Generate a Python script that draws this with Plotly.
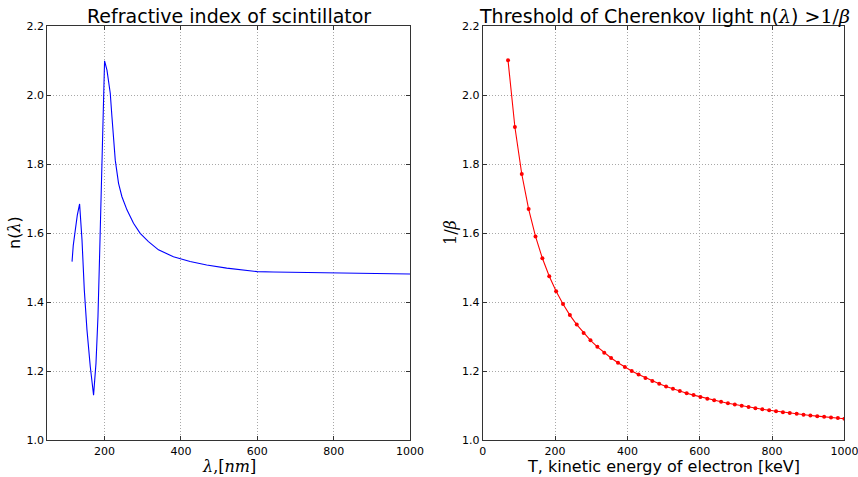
import plotly.graph_objects as go

# Refractive index of the scintillator vs wavelength (nm)
wavelength_nm = [114.8, 118.0, 123.4, 128.5, 134.6, 140.9, 146.9, 153.9, 162.6, 171.2,
                 177.5, 182.7, 186.9, 188.8, 190.6, 194.8, 197.4, 200.0, 206.3, 210.5,
                 214.9, 219.3, 223.5, 228.0, 236.6, 245.5, 258.6, 275.8, 293.3, 315.0,
                 341.2, 380.4, 424.0, 467.5, 520.0, 572.0, 600.0, 642.0, 712.0, 800.0,
                 900.0, 1000.0]
refr_index = [1.518, 1.565, 1.610, 1.652, 1.685, 1.581, 1.436, 1.320, 1.213, 1.131,
              1.223, 1.358, 1.532, 1.620, 1.725, 1.841, 2.035, 2.100, 2.073, 2.044,
              2.006, 1.938, 1.870, 1.812, 1.745, 1.706, 1.668, 1.629, 1.600, 1.576,
              1.552, 1.532, 1.518, 1.508, 1.499, 1.492, 1.489, 1.488, 1.487, 1.485,
              1.484, 1.482]

# Cherenkov threshold 1/beta vs electron kinetic energy (keV)
kin_energy_kev = [70, 89, 108, 127, 146, 165, 184, 203, 222, 241,
                  260, 279, 298, 317, 336, 355, 374, 393, 412, 431,
                  450, 469, 488, 507, 526, 545, 564, 583, 602, 621,
                  640, 659, 678, 697, 716, 735, 754, 773, 792, 811,
                  830, 849, 868, 887, 906, 925, 944, 963, 982, 1000]
inv_beta = [2.1014, 1.9081, 1.7719, 1.6702, 1.5910, 1.5275, 1.4754, 1.4318, 1.3948, 1.3630,
            1.3354, 1.3113, 1.2899, 1.2709, 1.2539, 1.2386, 1.2248, 1.2123, 1.2008, 1.1904,
            1.1808, 1.1719, 1.1638, 1.1562, 1.1492, 1.1427, 1.1366, 1.1310, 1.1257, 1.1207,
            1.1160, 1.1116, 1.1075, 1.1036, 1.0999, 1.0965, 1.0932, 1.0900, 1.0871, 1.0843,
            1.0816, 1.0791, 1.0766, 1.0743, 1.0721, 1.0700, 1.0680, 1.0661, 1.0643, 1.0626]

y_ticks = [1.0, 1.2, 1.4, 1.6, 1.8, 2.0, 2.2]
x_ticks = [0, 200, 400, 600, 800, 1000]

W, H = 858, 477
left_dom = [47.3 / W, 410.0 / W]
right_dom = [482.7 / W, 844.4 / W]
y_dom = [1 - 440.3 / H, 1 - 26.3 / H]

SANS = "DejaVu Sans"
SERIF = "DejaVu Serif"

fig = go.Figure()
fig.add_trace(go.Scatter(x=wavelength_nm, y=refr_index, mode="lines",
                         line=dict(color="#0000ff", width=1.1),
                         xaxis="x", yaxis="y", showlegend=False))
fig.add_trace(go.Scatter(x=kin_energy_kev, y=inv_beta, mode="lines+markers",
                         line=dict(color="#ff0000", width=1.1),
                         marker=dict(color="#ff0000", size=4),
                         xaxis="x2", yaxis="y2", showlegend=False))

axis_common = dict(
    showline=True, linecolor="#333333", linewidth=1.2, mirror="ticks",
    ticks="inside", ticklen=4, tickcolor="#333333", tickwidth=1,
    showgrid=True, gridcolor="#a8a8a8", griddash="1px,2px", gridwidth=1,
    zeroline=False, automargin=False, ticklabeloverflow="allow",
    tickfont=dict(family=SANS, size=11, color="#000000"),
)

fig.update_layout(
    autosize=True,
    margin=dict(l=0, r=0, t=0, b=0, autoexpand=False),
    paper_bgcolor="white", plot_bgcolor="white",
    xaxis=dict(domain=left_dom, range=[50, 1000], tickvals=x_ticks[1:],
               ticktext=[str(v) for v in x_ticks[1:]], anchor="y", **axis_common),
    yaxis=dict(domain=y_dom, range=[1.0, 2.2], tickvals=y_ticks,
               ticktext=[f"{v:.1f}" for v in y_ticks], anchor="x", **axis_common),
    xaxis2=dict(domain=right_dom, range=[0, 1000], tickvals=x_ticks,
                ticktext=[str(v) for v in x_ticks], anchor="y2", **axis_common),
    yaxis2=dict(domain=y_dom, range=[1.0, 2.2], tickvals=y_ticks,
                ticktext=[f"{v:.1f}" for v in y_ticks], anchor="x2", **axis_common),
)


def math(s):
    return f'<span style="font-family:{SERIF};font-style:italic">{s}</span>'


def serif(s):
    return f'<span style="font-family:{SERIF}">{s}</span>'


anns = [
    # panel titles
    dict(x=(left_dom[0] + left_dom[1]) / 2, y=1 - 16 / H, text="Refractive index of scintillator",
         font=dict(family=SANS, size=19, color="#000000")),
    dict(x=(right_dom[0] + right_dom[1]) / 2 + 1 / W, y=1 - 16 / H,
         text="Threshold of Cherenkov light n(" + math("λ") + ")" + serif(" &gt;1/") + math("β"),
         font=dict(family=SANS, size=19, color="#000000")),
    # axis titles
    dict(x=(left_dom[0] + left_dom[1]) / 2, y=1 - 466 / H,
         text=math("λ") + serif(",[") + math("nm") + serif("]"),
         font=dict(family=SERIF, size=16, color="#000000")),
    dict(x=(right_dom[0] + right_dom[1]) / 2, y=1 - 466 / H, text="T, kinetic energy of electron [keV]",
         font=dict(family=SANS, size=16, color="#000000")),
    dict(x=15 / W, y=1 - 233 / H, text="n(" + math("λ") + ")", textangle=-90,
         font=dict(family=SANS, size=16, color="#000000")),
    dict(x=451 / W, y=1 - 233 / H, text=serif("1/") + math("β"),
         textangle=-90, font=dict(family=SERIF, size=16, color="#000000")),
]
for a in anns:
    a.update(xref="paper", yref="paper", showarrow=False, xanchor="center", yanchor="middle")
fig.update_layout(annotations=anns)

fig.write_html(
    "out.html",
    default_width="100vw",
    default_height="100vh",
    config={"responsive": True},
    post_script="document.body.style.margin='0px';document.body.style.overflow='hidden';",
)
